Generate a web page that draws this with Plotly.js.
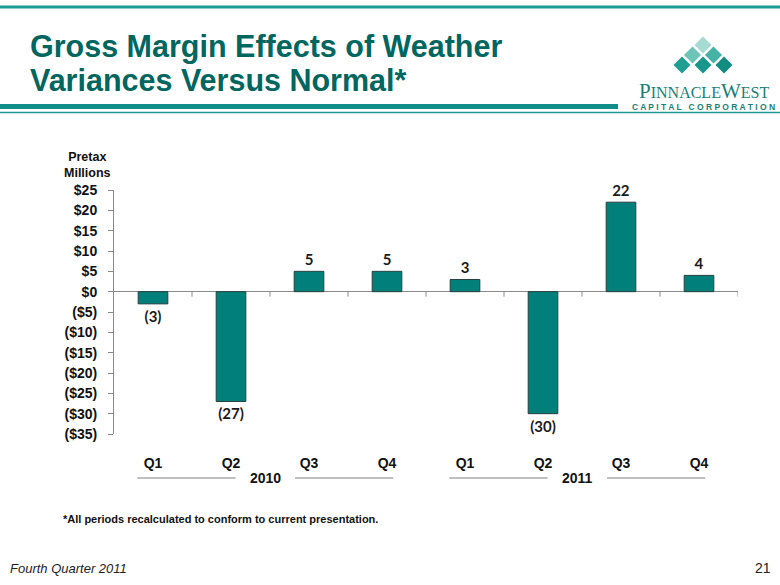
<!DOCTYPE html>
<html>
<head>
<meta charset="utf-8">
<script src="https://cdn.plot.ly/plotly-3.0.1.min.js"></script>
<style>html,body{margin:0;padding:0;background:#fff;}#chart{width:780px;height:585px;}</style>
</head>
<body>
<div id="chart"></div>
<script>
// ---- data ----
const quarters = ['Q1', 'Q2', 'Q3', 'Q4', 'Q1', 'Q2', 'Q3', 'Q4'];
const years = ['2010', '2011'];
const weatherEffect = [-3, -27, 5, 5, 3, -30, 22, 4];
const yTickValues = [25, 20, 15, 10, 5, 0, -5, -10, -15, -20, -25, -30, -35];
const yTickLabels = ['$25', '$20', '$15', '$10', '$5', '$0', '($5)', '($10)', '($15)', '($20)', '($25)', '($30)', '($35)'];

// ---- layout geometry ----
const W = 780, H = 585;
const M = {l: 114, r: 42, t: 190, b: 151};
const PW = W - M.l - M.r, PH = H - M.t - M.b;
const px = p => (p - M.l) / PW;
const py = p => (H - M.b - p) / PH;

const TEAL = '#007f7b';
const ARIAL = 'Arial, "Liberation Sans", sans-serif';
const CAL = 'Lato, "Open Sans", sans-serif';

const xIdx = quarters.map((q, i) => i);
const labels = weatherEffect.map(v => v < 0 ? '(' + (-v) + ')' : String(v));

const trace = {
  type: 'bar',
  x: xIdx,
  y: weatherEffect,
  width: 0.38,
  marker: {color: TEAL, line: {color: '#24403e', width: 1}},
  text: labels,
  textposition: 'outside',
  cliponaxis: false,
  textfont: {family: CAL, size: 15, color: '#1a1a1a', weight: 'bold'},
  hoverinfo: 'skip'
};

const shapes = [];
const annotations = [];

// header rules
shapes.push({type: 'line', xref: 'paper', yref: 'paper', x0: px(0), x1: px(780), y0: py(7), y1: py(7), line: {color: '#1b9a94', width: 3}});
shapes.push({type: 'rect', xref: 'paper', yref: 'paper', x0: px(0), x1: px(618), y0: py(104), y1: py(109), fillcolor: '#0f8f88', line: {width: 0}});
shapes.push({type: 'line', xref: 'paper', yref: 'paper', x0: px(0), x1: px(780), y0: py(112.5), y1: py(112.5), line: {color: '#1b9a94', width: 1.5}});

// zero-line ticks between categories
for (let i = 1; i <= quarters.length; i++) {
  shapes.push({type: 'line', xref: 'x', yref: 'y', ysizemode: 'pixel', yanchor: 0, x0: i - 0.5, x1: i - 0.5, y0: 0, y1: -5, line: {color: '#8a8a8a', width: 1}});
}

// year group labels & rules
years.forEach((yr, g) => {
  const c = g * 4 + 1.44;
  shapes.push({type: 'line', xref: 'x', yref: 'paper', x0: c - 1.64, x1: c - 0.38, y0: py(478), y1: py(478), line: {color: '#7f7f7f', width: 1}});
  shapes.push({type: 'line', xref: 'x', yref: 'paper', x0: c + 0.38, x1: c + 1.64, y0: py(478), y1: py(478), line: {color: '#7f7f7f', width: 1}});
  annotations.push({xref: 'x', yref: 'paper', x: c, y: py(478), text: '<b>' + yr + '</b>', showarrow: false, xanchor: 'center', yanchor: 'middle', font: {family: ARIAL, size: 14, color: '#111'}});
});

// logo diamonds
function diamond(cx, cy, h, color) {
  const pts = [[cx, cy - h], [cx + h, cy], [cx, cy + h], [cx - h, cy]];
  const d = 'M' + pts.map(p => px(p[0]) + ',' + py(p[1])).join(' L') + ' Z';
  return {type: 'path', xref: 'paper', yref: 'paper', path: d, fillcolor: color, line: {width: 0}};
}
shapes.push(diamond(703, 45, 8.5, '#a6dbd3'));
shapes.push(diamond(692.5, 55, 8.5, '#6cc4b9'));
shapes.push(diamond(713.5, 55, 8.5, '#45b2a6'));
shapes.push(diamond(682, 65, 8.5, '#1f9e91'));
shapes.push(diamond(703, 65, 8.5, '#17968a'));
shapes.push(diamond(724, 65, 8.5, '#128c80'));

// titles and texts
annotations.push({xref: 'paper', yref: 'paper', x: px(28), y: py(46), xanchor: 'left', yanchor: 'middle', showarrow: false,
  text: '<b>Gross Margin Effects of Weather</b>', font: {family: ARIAL, size: 30.5, color: '#00665f'}});
annotations.push({xref: 'paper', yref: 'paper', x: px(28), y: py(80), xanchor: 'left', yanchor: 'middle', showarrow: false,
  text: '<b>Variances Versus Normal*</b>', font: {family: ARIAL, size: 30.5, color: '#00665f'}});

annotations.push({xref: 'paper', yref: 'paper', x: px(704), y: py(91), xanchor: 'center', yanchor: 'middle', showarrow: false,
  text: '<span style="font-size:21px">P</span>INNACLE<span style="font-size:21px">W</span>EST', font: {family: '"Liberation Serif", "DejaVu Serif", serif', size: 16, color: '#1a7f78'}});
annotations.push({xref: 'paper', yref: 'paper', x: px(703), y: py(107), xanchor: 'center', yanchor: 'middle', showarrow: false,
  text: '<b>C A P I T A L   C O R P O R A T I O N</b>', font: {family: ARIAL, size: 8.5, color: '#1a7f78'}});

annotations.push({xref: 'paper', yref: 'paper', x: px(87), y: py(165), xanchor: 'center', yanchor: 'middle', showarrow: false,
  text: '<b>Pretax<br>Millions</b>', font: {family: ARIAL, size: 12.5, color: '#111'}});

annotations.push({xref: 'paper', yref: 'paper', x: px(61), y: py(519), xanchor: 'left', yanchor: 'middle', showarrow: false,
  text: '<b>*All periods recalculated to conform to current presentation.</b>', font: {family: ARIAL, size: 11, color: '#111'}});
annotations.push({xref: 'paper', yref: 'paper', x: px(8), y: py(568), xanchor: 'left', yanchor: 'middle', showarrow: false,
  text: '<i>Fourth Quarter 2011</i>', font: {family: ARIAL, size: 13, color: '#222'}});
annotations.push({xref: 'paper', yref: 'paper', x: px(773), y: py(568), xanchor: 'right', yanchor: 'middle', showarrow: false,
  text: '21', font: {family: ARIAL, size: 14, color: '#222'}});

const layout = {
  width: W, height: H, autosize: false,
  margin: M,
  paper_bgcolor: '#fff', plot_bgcolor: '#fff',
  showlegend: false,
  xaxis: {
    range: [-0.5, 7.5], tickvals: xIdx, ticktext: quarters,
    showline: false, zeroline: false, showgrid: false, ticks: '',
    ticklabelstandoff: 19,
    tickfont: {family: ARIAL, size: 14, color: '#111', weight: 'bold'},
    fixedrange: true
  },
  yaxis: {
    range: [-35, 25], tickvals: yTickValues, ticktext: yTickLabels,
    showline: true, linecolor: '#8a8a8a', linewidth: 1,
    ticks: 'outside', ticklen: 5, tickcolor: '#8a8a8a',
    ticklabelstandoff: 8,
    showgrid: false, zeroline: true, zerolinecolor: '#8a8a8a', zerolinewidth: 1,
    tickfont: {family: ARIAL, size: 14, color: '#111', weight: 'bold'},
    fixedrange: true
  },
  shapes: shapes,
  annotations: annotations
};

Plotly.newPlot('chart', [trace], layout, {displayModeBar: false, staticPlot: true});
</script>
</body>
</html>
